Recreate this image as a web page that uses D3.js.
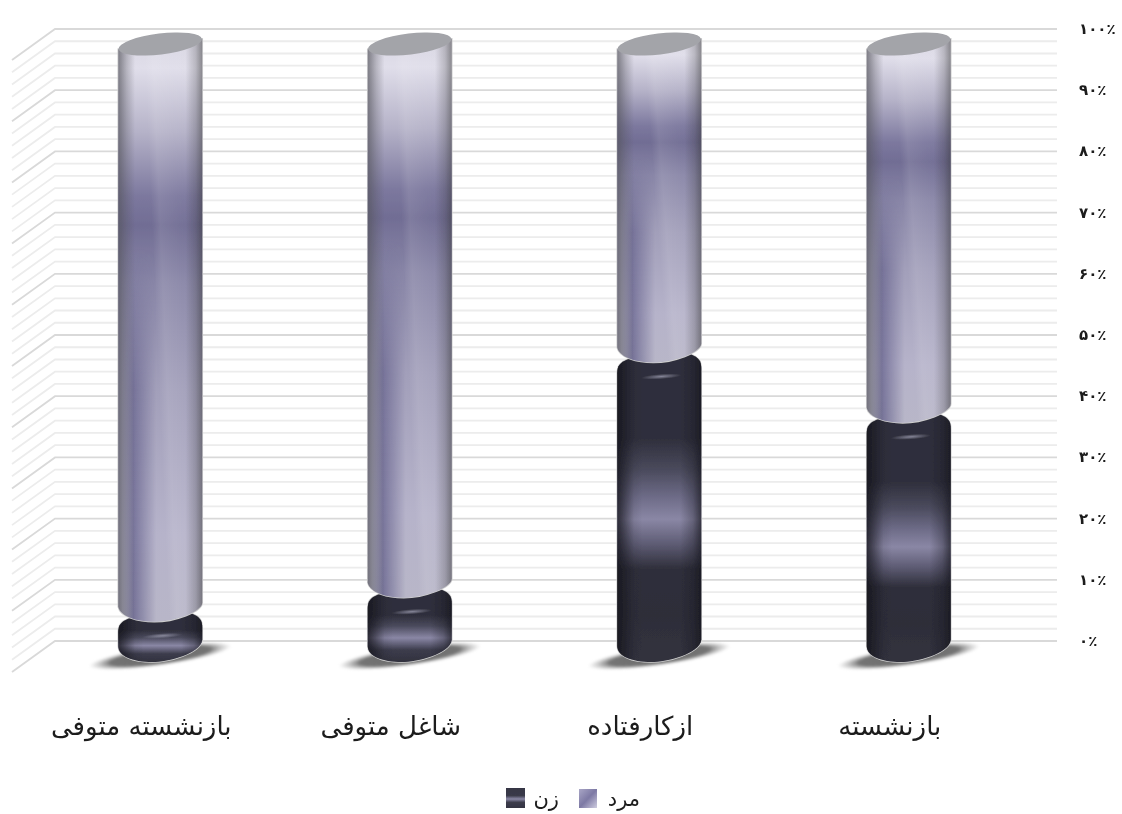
<!DOCTYPE html>
<html><head><meta charset="utf-8">
<script src="https://cdn.jsdelivr.net/npm/d3@7"></script>
<style>html,body{margin:0;padding:0;background:#fff}svg{display:block}text{font-family:"DejaVu Sans",sans-serif;fill:#1a1a1a}</style>
</head><body><div id="c"></div>
<script>
const categories = ["بازنشسته متوفی","شاغل متوفی","ازکارفتاده","بازنشسته"];
const womenValues = [6,10,49,39];
const menValues = [94,90,51,61];
const tickValues = [0,10,20,30,40,50,60,70,80,90,100];
const minorValues = d3.range(0,101,2);
const seriesNames = ["مرد","زن"];
const fa = v => String(v).replace(/\d/g,d=>"۰۱۲۳۴۵۶۷۸۹"[d])+"٪";

const W=1122,H=814;
const svg=d3.select("#c").append("svg").attr("width",W).attr("height",H);
const defs=svg.append("defs");
function grad(id,stops,a={x1:0,y1:0,x2:0,y2:1}){
  const g=defs.append("linearGradient").attr("id",id).attr("x1",a.x1).attr("y1",a.y1).attr("x2",a.x2).attr("y2",a.y2);
  stops.forEach(s=>g.append("stop").attr("offset",s[0]).attr("stop-color",s[1]).attr("stop-opacity",s[2]==null?1:s[2]));
}
grad("men",[[0,"#d8d6e2"],[.05,"#e0deea"],[.16,"#b5b2c8"],[.27,"#7c789e"],[.32,"#716d94"],[.42,"#8a87a8"],[.6,"#a29fba"],[.85,"#b6b3ca"],[1,"#b8b6c8"]]);
grad("women",[[0,"#2f2f3c"],[.28,"#2f2f3c"],[.38,"#4a4a5c"],[.47,"#6e6c88"],[.54,"#8a87a5"],[.62,"#5e5c74"],[.7,"#2f2f3b"],[.85,"#2e2e39"],[1,"#32323e"]]);
grad("womenSmall",[[0,"#2f2f3c"],[.38,"#2f2f3c"],[.52,"#4a4a5c"],[.68,"#8a87a5"],[.84,"#3c3c4c"],[1,"#32323e"]]);
grad("shadeM",[[0,"#55555c",.7],[.1,"#55555c",.3],[.2,"#55555c",0],[.8,"#333",0],[.92,"#333",.22],[1,"#333",.5]],{x1:0,y1:0,x2:1,y2:0});
grad("shadeW",[[0,"#15151c",.8],[.06,"#15151c",.6],[.2,"#15151c",.1],[.3,"#15151c",0],[.75,"#15151c",0],[.9,"#15151c",.3],[1,"#15151c",.7]],{x1:0,y1:0,x2:1,y2:0});
grad("streak",[[0,"#fff",0],[.46,"#fff",0],[.55,"#fff",.1],[.75,"#fff",.04],[1,"#fff",0]],{x1:0,y1:.65,x2:1,y2:.35});
grad("lowL",[[0,"#4a4678",0],[.36,"#4a4678",0],[.6,"#4a4678",.5],[1,"#4a4678",.6]]);
grad("lowMask",[[0,"#000"],[.05,"#000"],[.18,"#fff"],[.45,"#000"]],{x1:0,y1:0,x2:1,y2:0});
defs.append("mask").attr("id","mL").attr("maskContentUnits","objectBoundingBox").append("rect").attr("width",1).attr("height",1).attr("fill","url(#lowMask)");
grad("sw1",[[0,"#a9a6c6"],[.5,"#7d79a4"],[1,"#cfcde0"]],{x1:0,y1:0,x2:1,y2:1});
grad("sw2",[[0,"#363644"],[.38,"#3a3a4a"],[.55,"#8a88a6"],[.72,"#3c3c4c"],[1,"#343442"]]);
const rg=defs.append("radialGradient").attr("id","sh");
[[0,"#666",1],[.7,"#6e6e6e",.95],[1,"#aaa",0]].forEach(s=>rg.append("stop").attr("offset",s[0]).attr("stop-color",s[1]).attr("stop-opacity",s[2]));
const hl=defs.append("radialGradient").attr("id","hl");
[[0,"#8f8fa2",.9],[1,"#8f8fa2",0]].forEach(s=>hl.append("stop").attr("offset",s[0]).attr("stop-color",s[1]).attr("stop-opacity",s[2]));
defs.append("filter").attr("id","b").attr("x","-5%").attr("y","-5%").attr("width","110%").attr("height","110%").append("feGaussianBlur").attr("stdDeviation",.6);
defs.append("filter").attr("id","b2").attr("x","-20%").attr("y","-50%").attr("width","140%").attr("height","200%").append("feGaussianBlur").attr("stdDeviation",1);
defs.append("filter").attr("id","bt").append("feGaussianBlur").attr("stdDeviation",.35);

// scales
const yGrid=d3.scaleLinear().domain([0,100]).range([641,29]);
const yBar=d3.scaleLinear().domain([0,100]).range([647,44]);
const x=d3.scaleBand().domain(categories).range([35.5,1033.5]);
const cx=c=>x(c)+x.bandwidth()/2;
const backX=55,frontX=12,rightX=1057,depth=31;

// grid
const g=svg.append("g").attr("filter","url(#bt)");
g.selectAll("path.minor").data(minorValues.filter(v=>v%10)).join("path")
 .attr("d",v=>`M${frontX},${yGrid(v)+depth}L${backX},${yGrid(v)}H${rightX}`)
 .attr("fill","none").attr("stroke","#ececec").attr("stroke-width",1.8);
g.selectAll("path.major").data(tickValues).join("path")
 .attr("d",v=>`M${frontX},${yGrid(v)+depth}L${backX},${yGrid(v)}H${rightX}`)
 .attr("fill","none").attr("stroke","#d9d9d9").attr("stroke-width",1.8);

// tick labels
svg.append("g").selectAll("text").data(tickValues).join("text")
 .attr("x",1079).attr("y",v=>yGrid(v)+5).attr("font-size",15).attr("direction","ltr").attr("font-weight","bold").attr("filter","url(#bt)")
 .text(fa);

// cylinders
const rx=42,ry=10.5,tilt=7*Math.PI/180,dy=rx*Math.tan(tilt);
function menBody(xc,yT,yB){
  const L=xc-rx,R=xc+rx,yl=yB+2,yr=yB-5;
  return `M${L},${yT+dy}L${R},${yT-dy}L${R},${yr-3}C${R},${yr+6} ${R-28},${yB+11} ${xc-6},${yB+11}C${L+20},${yB+11} ${L+2},${yl+4} ${L},${yl-6}Z`;
}
function womenBody(xc,yT,yB){
  const L=xc-rx,R=xc+rx,yl=yB-1,yr=yB-7;
  return `M${L},${yT+22}C${L},${yT+14} ${L+3},${yT+11} ${L+10},${yT+8}L${xc},${yT}L${R-10},${yT+3}C${R-3},${yT+6} ${R},${yT+9} ${R},${yT+17}L${R},${yr}C${R-2},${yr+14} ${R-34},${yB+15} ${xc-8},${yB+15}C${L+14},${yB+15} ${L},${yl+10} ${L},${yl}Z`;
}
const marks=svg.append("g");
categories.forEach((c,i)=>{
  const xc=cx(c),b0=yBar(0),b1=yBar(womenValues[i]),b2=yBar(womenValues[i]+menValues[i]);
  marks.append("ellipse").attr("transform",`translate(${xc},${b0+9}) rotate(-8)`).attr("rx",72).attr("ry",10).attr("fill","url(#sh)").attr("filter","url(#b2)");
  const gg=marks.append("g").attr("filter","url(#b)");
  const w=womenBody(xc,b1,b0);
  gg.append("path").attr("d",w).attr("fill","none").attr("stroke","#cfcfcf").attr("stroke-width",1.6);
  gg.append("path").attr("d",w).attr("fill",womenValues[i]<15?"url(#womenSmall)":"url(#women)");
  gg.append("path").attr("d",w).attr("fill","url(#shadeW)");
  gg.append("ellipse").attr("transform",`translate(${xc+2},${b1+25}) rotate(-4)`).attr("rx",20).attr("ry",2.6).attr("fill","url(#hl)");
  const m=menBody(xc,b2,b1);
  gg.append("path").attr("d",m).attr("fill","none").attr("stroke","#cfcfcf").attr("stroke-width",1.6);
  gg.append("path").attr("d",m).attr("fill","url(#men)");
  gg.append("path").attr("d",m).attr("fill","url(#streak)");
  gg.append("path").attr("d",m).attr("fill","url(#lowL)").attr("mask","url(#mL)");
  gg.append("path").attr("d",m).attr("fill","url(#shadeM)");
  gg.append("ellipse").attr("transform",`translate(${xc},${b2}) rotate(-7)`).attr("rx",rx).attr("ry",ry).attr("fill","#a3a4a9");
});

// category labels
svg.append("g").selectAll("text").data(categories).join("text")
 .attr("x",c=>cx(c)-19).attr("y",735).attr("text-anchor","middle").attr("direction","rtl").attr("font-size",26).attr("filter","url(#bt)")
 .text(c=>c);

// legend
const lg=svg.append("g");
lg.append("rect").attr("x",579).attr("y",789).attr("width",18).attr("height",19).attr("fill","url(#sw1)").attr("filter","url(#bt)");
lg.append("text").attr("x",640).attr("y",806).attr("text-anchor","start").attr("direction","rtl").attr("font-size",21).attr("filter","url(#bt)").text(seriesNames[0]);
lg.append("rect").attr("x",506).attr("y",788).attr("width",19).attr("height",20).attr("fill","url(#sw2)").attr("filter","url(#bt)");
lg.append("text").attr("x",559).attr("y",806).attr("text-anchor","start").attr("direction","rtl").attr("font-size",21).attr("filter","url(#bt)").text(seriesNames[1]);
</script></body></html>
